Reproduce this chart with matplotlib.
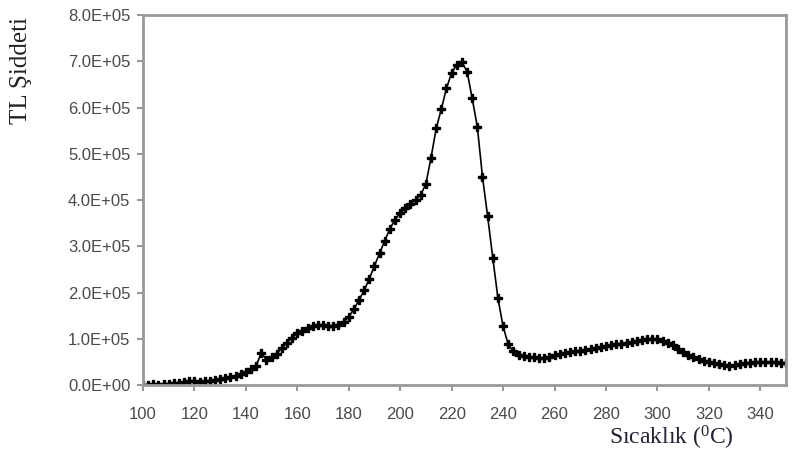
import matplotlib
matplotlib.use("Agg")
from matplotlib import pyplot as plt

# temperature (C), 2 degree steps
temp = list(range(100, 352, 2))

# TL intensity
tl = [0, 1e3, 2e3, 1e3, 3e3, 3e3, 4e3, 5e3, 6e3, 1.0e4,
      8e3, 7e3, 8e3, 1.0e4, 1.1e4, 1.3e4, 1.5e4, 1.7e4, 2.0e4, 2.5e4,
      2.9e4, 3.4e4, 4.1e4, 7.0e4, 5.5e4, 6.0e4, 6.8e4, 8.0e4, 9.2e4, 1.03e5,
      1.12e5, 1.18e5, 1.24e5, 1.27e5, 1.29e5, 1.29e5, 1.28e5, 1.27e5, 1.29e5, 1.36e5,
      1.48e5, 1.64e5, 1.84e5, 2.05e5, 2.30e5, 2.58e5, 2.85e5, 3.12e5, 3.38e5, 3.58e5,
      3.72e5, 3.82e5, 3.92e5, 4.00e5, 4.12e5, 4.35e5, 4.92e5, 5.55e5, 5.97e5, 6.42e5,
      6.75e5, 6.93e5, 6.98e5, 6.78e5, 6.20e5, 5.58e5, 4.50e5, 3.65e5, 2.75e5, 1.88e5,
      1.27e5, 8.8e4, 7.3e4, 6.6e4, 6.3e4, 6.1e4, 6.0e4, 5.8e4, 5.8e4, 6.1e4,
      6.5e4, 6.8e4, 7.0e4, 7.2e4, 7.3e4, 7.4e4, 7.6e4, 7.8e4, 8.0e4, 8.2e4,
      8.4e4, 8.6e4, 8.8e4, 9.0e4, 9.2e4, 9.4e4, 9.6e4, 9.8e4, 9.9e4, 1.00e5,
      9.9e4, 9.6e4, 9.2e4, 8.6e4, 7.8e4, 7.1e4, 6.5e4, 6.0e4, 5.6e4, 5.3e4,
      5.0e4, 4.8e4, 4.6e4, 4.4e4, 4.2e4, 4.3e4, 4.5e4, 4.7e4, 4.8e4, 4.9e4,
      5.0e4, 5.0e4, 5.0e4, 4.9e4, 4.8e4, 4.7e4]

xticks = list(range(100, 360, 20))
yticks = [i * 1e5 for i in range(9)]

plt.rcParams['mathtext.fontset'] = 'custom'
plt.rcParams['mathtext.rm'] = 'Liberation Serif'

fig = plt.figure(figsize=(7.94, 4.72), dpi=100)
ax = fig.add_axes([0.180, 0.184, 0.810, 0.784])

ax.plot(temp, tl, color='black', lw=1.2, marker='P', ms=6, mec='black', mfc='black')

ax.set_xlim(100, 350)
ax.set_ylim(0, 8e5)
ax.set_xticks(xticks)
ax.set_yticks(yticks)
ax.set_yticklabels(['%.1fE+%02d' % (v / 1e5, 5) if v > 0 else '0.0E+00' for v in yticks])

for s in ax.spines.values():
    s.set_color('#999999')
    s.set_linewidth(2)
ax.tick_params(colors='#999999', labelcolor='#4a4a4a', length=4, width=1.5,
               labelsize=12)
ax.tick_params(axis='x', pad=12)
ax.tick_params(axis='y', pad=5)
for lab in ax.get_xticklabels() + ax.get_yticklabels():
    lab.set_family('Liberation Sans')

fig.text(0.027, 0.85, 'TL Şiddeti', rotation=90, ha='center', va='center',
         family='Liberation Serif', fontsize=18, color='#222222')
fig.text(0.845, 0.072, 'Sıcaklık ($\\mathregular{^0}$C)', ha='center', va='center',
         family='Liberation Serif', fontsize=17, color='#222233')

fig.savefig('out.png', dpi=100)
